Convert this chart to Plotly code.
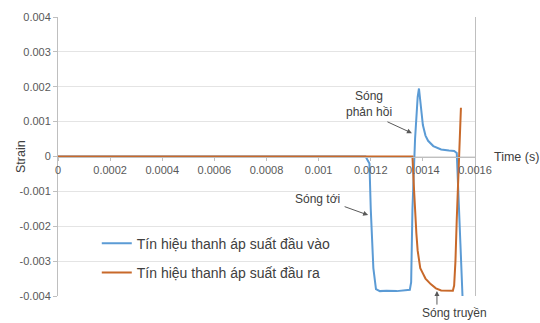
import plotly.graph_objects as go

# Input bar signal (incident + reflected waves)
t_in = [0, 0.0003, 0.0006, 0.0009, 0.00118, 0.001195, 0.0012, 0.00121, 0.00122,
        0.001235, 0.00126, 0.0013, 0.00133, 0.00135, 0.001355, 0.00136, 0.00137,
        0.00138, 0.001385, 0.00139, 0.0014, 0.00141, 0.00142, 0.00144, 0.00147,
        0.0015, 0.00152, 0.00153, 0.001537, 0.001544, 0.001552]
strain_in = [0, 0, 0, 0, 0, -0.0002, -0.0015, -0.0032, -0.0038,
             -0.00386, -0.00385, -0.00386, -0.00384, -0.00382, -0.0036, -0.0015, 0.0005,
             0.0017, 0.00195, 0.0016, 0.0009, 0.0006, 0.00045, 0.0003, 0.0002,
             0.00017, 0.00016, 0.0001, -0.001, -0.0025, -0.004]

# Output bar signal (transmitted wave)
t_out = [0, 0.0003, 0.0006, 0.0009, 0.0012, 0.00136, 0.001365, 0.00137, 0.001375,
         0.00138, 0.001385, 0.00139, 0.0014, 0.00141, 0.00143, 0.00145, 0.00147,
         0.0015, 0.001515, 0.00152, 0.001525, 0.00153, 0.001535, 0.00154, 0.001546]
strain_out = [0, 0, 0, 0, 0, 0, -0.0008, -0.0016, -0.0022,
              -0.0027, -0.003, -0.0032, -0.00335, -0.0035, -0.00366, -0.00378, -0.00384,
              -0.00386, -0.00385, -0.0037, -0.003, -0.0018, -0.0006, 0.0005, 0.0014]

x_ticks = [0, 0.0002, 0.0004, 0.0006, 0.0008, 0.001, 0.0012, 0.0014, 0.0016]
x_tick_text = ["0", "0.0002", "0.0004", "0.0006", "0.0008", "0.001", "0.0012", "0.0014", "0.0016"]
y_ticks = [0.004, 0.003, 0.002, 0.001, 0, -0.001, -0.002, -0.003, -0.004]
y_tick_text = ["0.004", "0.003", "0.002", "0.001", "0", "-0.001", "-0.002", "-0.003", "-0.004"]

FONT = "Liberation Sans, Arial, sans-serif"
BLUE = "#5B9BD5"
ORANGE = "#C8692A"
TXT = "#404040"
TICK = "#595959"

fig = go.Figure()
fig.add_trace(go.Scatter(x=t_in, y=strain_in, mode="lines",
                         name="Tín hiệu thanh áp suất đầu vào", legendgroup="a",
                         line=dict(color=BLUE, width=2)))
fig.add_trace(go.Scatter(x=t_out, y=strain_out, mode="lines",
                         name="Tín hiệu thanh áp suất đầu ra", legendgroup="b",
                         line=dict(color=ORANGE, width=2)))

fig.update_layout(
    width=540, height=323,
    margin=dict(l=58, r=65, t=17, b=27),
    paper_bgcolor="white", plot_bgcolor="white",
    font=dict(family=FONT, color=TXT),
    showlegend=True,
    legend=dict(x=0.093, y=0.245, xanchor="left", yanchor="top",
                bgcolor="rgba(0,0,0,0)", font=dict(size=14, color=TXT),
                tracegroupgap=8, itemwidth=30),
    xaxis=dict(range=[0, 0.0016], anchor="free", position=0.5,
               tickvals=x_ticks, ticktext=x_tick_text,
               tickfont=dict(size=11, color=TICK),
               showgrid=False, zeroline=False,
               showline=True, linecolor="#bfbfbf", linewidth=1,
               ticks="outside", ticklen=3, tickcolor="#bfbfbf"),
    yaxis=dict(range=[-0.004, 0.004], domain=[0, 1],
               tickvals=y_ticks, ticktext=y_tick_text,
               tickfont=dict(size=11, color=TICK),
               showgrid=True, gridcolor="#e4e4e4", gridwidth=1, zeroline=False,
               showline=True, linecolor="#bfbfbf", linewidth=1, mirror=True,
               ticks="outside", ticklen=4, tickcolor="#bfbfbf"),
)

# Axis titles placed beside the axes
fig.add_annotation(text="Time (s)", xref="paper", yref="y", x=1.04, y=0,
                   xanchor="left", yanchor="middle", showarrow=False,
                   font=dict(size=12.5, color=TXT))
fig.add_annotation(text="Strain", xref="paper", yref="y", x=-0.09, y=0,
                   xanchor="center", yanchor="middle", textangle=-90, showarrow=False,
                   font=dict(size=12.5, color=TXT))

# Wave labels
lab_font = dict(size=12, color=TXT)
fig.add_annotation(text="Sóng tới", x=0.000994, y=-0.00122, showarrow=False, font=lab_font)
fig.add_annotation(text="Sóng<br>phản hồi", x=0.001193, y=0.0015, showarrow=False, font=lab_font)
fig.add_annotation(text="Sóng truyền", x=0.00152, xref="x", yref="paper", y=-0.061,
                   yanchor="middle", showarrow=False, font=lab_font)

arrow = dict(text="", showarrow=True, arrowhead=2, arrowsize=1, arrowwidth=1,
             arrowcolor="#595959")
fig.add_annotation(x=0.00119, y=-0.00168, ax=-25, ay=-9, **arrow)
fig.add_annotation(x=0.001358, y=0.00067, ax=-26, ay=-12, **arrow)
fig.add_annotation(x=0.001454, y=-0.00386, ax=0, ay=15, **arrow)

fig.write_html("out.html")
